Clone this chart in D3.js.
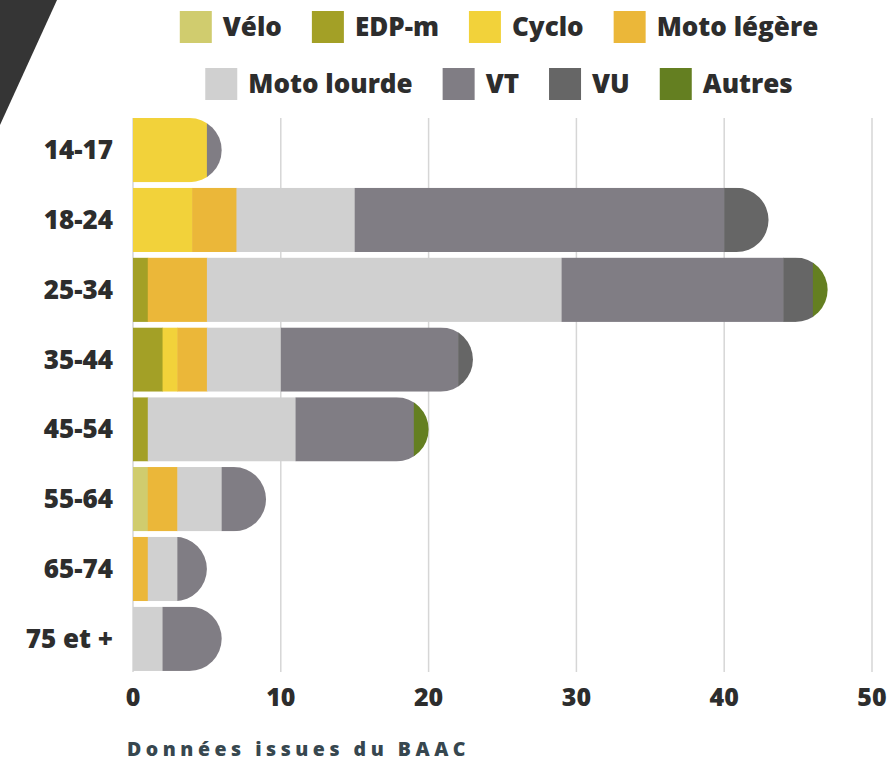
<!DOCTYPE html>
<html>
<head>
<meta charset="utf-8">
<script src="https://cdn.jsdelivr.net/npm/d3@7"></script>
<style>
  body { margin: 0; background: #fff; }
  svg { display: block; font-family: "Open Sans", sans-serif; }
</style>
</head>
<body>
<svg id="chart" width="888" height="761"></svg>
<script>
// data
var ages = ["14-17", "18-24", "25-34", "35-44", "45-54", "55-64", "65-74", "75 et +"];
var modes = ["Vélo", "EDP-m", "Cyclo", "Moto légère", "Moto lourde", "VT", "VU", "Autres"];
var colors = ["#d0cc6e", "#a3a026", "#f2d23a", "#ebb739", "#d0d0d0", "#807d84", "#666666", "#647f21"];

var velo       = [0, 0, 0, 0, 0, 1, 0, 0];
var edpm       = [0, 0, 1, 2, 1, 0, 0, 0];
var cyclo      = [5, 4, 0, 1, 0, 0, 0, 0];
var motoLegere = [0, 3, 4, 2, 0, 2, 1, 0];
var motoLourde = [0, 8, 24, 5, 10, 3, 2, 2];
var vt         = [1, 25, 15, 12, 8, 3, 2, 4];
var vu         = [0, 3, 2, 1, 0, 0, 0, 0];
var autres     = [0, 0, 1, 0, 1, 0, 0, 0];
var xTicks = [0, 10, 20, 30, 40, 50];

var series = [velo, edpm, cyclo, motoLegere, motoLourde, vt, vu, autres];

var rows = ages.map(function(a, i) {
  var r = { age: a };
  modes.forEach(function(m, j) { r[m] = series[j][i]; });
  return r;
});

var svg = d3.select("svg#chart");

// dark corner shape
svg.append("path")
    .attr("d", "M0,0 L57,0 L0,125 Z")
    .attr("fill", "#353535");

var x = d3.scaleLinear().domain([0, 50]).range([133, 872]);
var y = d3.scaleBand().domain(ages).range([115.24, 673.7])
    .paddingInner(0.079).paddingOuter(0.0395);
var color = d3.scaleOrdinal().domain(modes).range(colors);

// grid
svg.append("g").selectAll("line")
    .data(xTicks)
  .enter().append("line")
    .attr("x1", function(d) { return x(d); })
    .attr("x2", function(d) { return x(d); })
    .attr("y1", 118)
    .attr("y2", 672)
    .attr("stroke", "#d6d6d6")
    .attr("stroke-width", 1.5);

var stack = d3.stack().keys(modes);
var stacked = stack(rows);

// rounded clip per row
var h = y.bandwidth(), r = h / 2;
var defs = svg.append("defs");
rows.forEach(function(d, i) {
  var total = d3.sum(modes, function(m) { return d[m]; });
  var x0 = x(0), xe = x(total), y0 = y(d.age);
  defs.append("clipPath").attr("id", "clip" + i)
    .append("path")
      .attr("d", "M" + (x0 - 1) + "," + y0 + " H" + (xe - r) +
        " A" + r + "," + r + " 0 0 1 " + (xe - r) + "," + (y0 + h) +
        " H" + (x0 - 1) + " Z");
});

var bars = svg.append("g").selectAll("g.row")
    .data(rows)
  .enter().append("g")
    .attr("class", "row")
    .attr("clip-path", function(d, i) { return "url(#clip" + i + ")"; });

bars.each(function(d, i) {
  var g = d3.select(this);
  stacked.forEach(function(s) {
    var seg = s[i];
    if (seg[1] - seg[0] <= 0) return;
    g.append("rect")
        .attr("x", x(seg[0]))
        .attr("y", y(d.age))
        .attr("width", x(seg[1]) - x(seg[0]) + 0.5)
        .attr("height", h)
        .attr("fill", color(s.key));
  });
});

// y labels
svg.append("g").selectAll("text")
    .data(ages)
  .enter().append("text")
    .attr("x", 113)
    .attr("y", function(d) { return y(d) + h / 2; })
    .attr("dy", "0.35em")
    .attr("text-anchor", "end")
    .attr("font-size", 26)
    .attr("font-weight", 800)
    .attr("fill", "#2d2d2d")
    .text(function(d) { return d; });

// x tick labels
svg.append("g").selectAll("text")
    .data(xTicks)
  .enter().append("text")
    .attr("x", function(d) { return x(d); })
    .attr("y", 706)
    .attr("text-anchor", "middle")
    .attr("font-size", 25)
    .attr("font-weight", 800)
    .attr("fill", "#2d2d2d")
    .text(function(d) { return d; });

// source, spread to the width seen in the picture
var src = svg.append("text")
    .attr("x", 127)
    .attr("y", 756)
    .attr("font-size", 19.5)
    .attr("font-weight", 800)
    .attr("fill", "#37474f")
    .text("Données issues du BAAC");
var srcW = src.node().getComputedTextLength();
src.attr("letter-spacing", Math.max(0, (343 - srcW) / 22));

// legend, two centered rows
var legendRows = [modes.slice(0, 4), modes.slice(4)];
var legendY = [11, 68];
legendRows.forEach(function(items, ri) {
  var lg = svg.append("g");
  var cx = 0;
  items.forEach(function(m) {
    var it = lg.append("g").attr("transform", "translate(" + cx + ",0)");
    it.append("rect")
        .attr("width", 32)
        .attr("height", 32)
        .attr("fill", color(m));
    var t = it.append("text")
        .attr("x", 43)
        .attr("y", 16)
        .attr("dy", "0.35em")
        .attr("font-size", 26)
        .attr("font-weight", 800)
        .attr("fill", "#2d2d2d")
        .text(m);
    cx += 43 + t.node().getComputedTextLength() + 30;
  });
  var w = cx - 30;
  lg.attr("transform", "translate(" + (499 - w / 2) + "," + legendY[ri] + ")");
});
</script>
</body>
</html>
